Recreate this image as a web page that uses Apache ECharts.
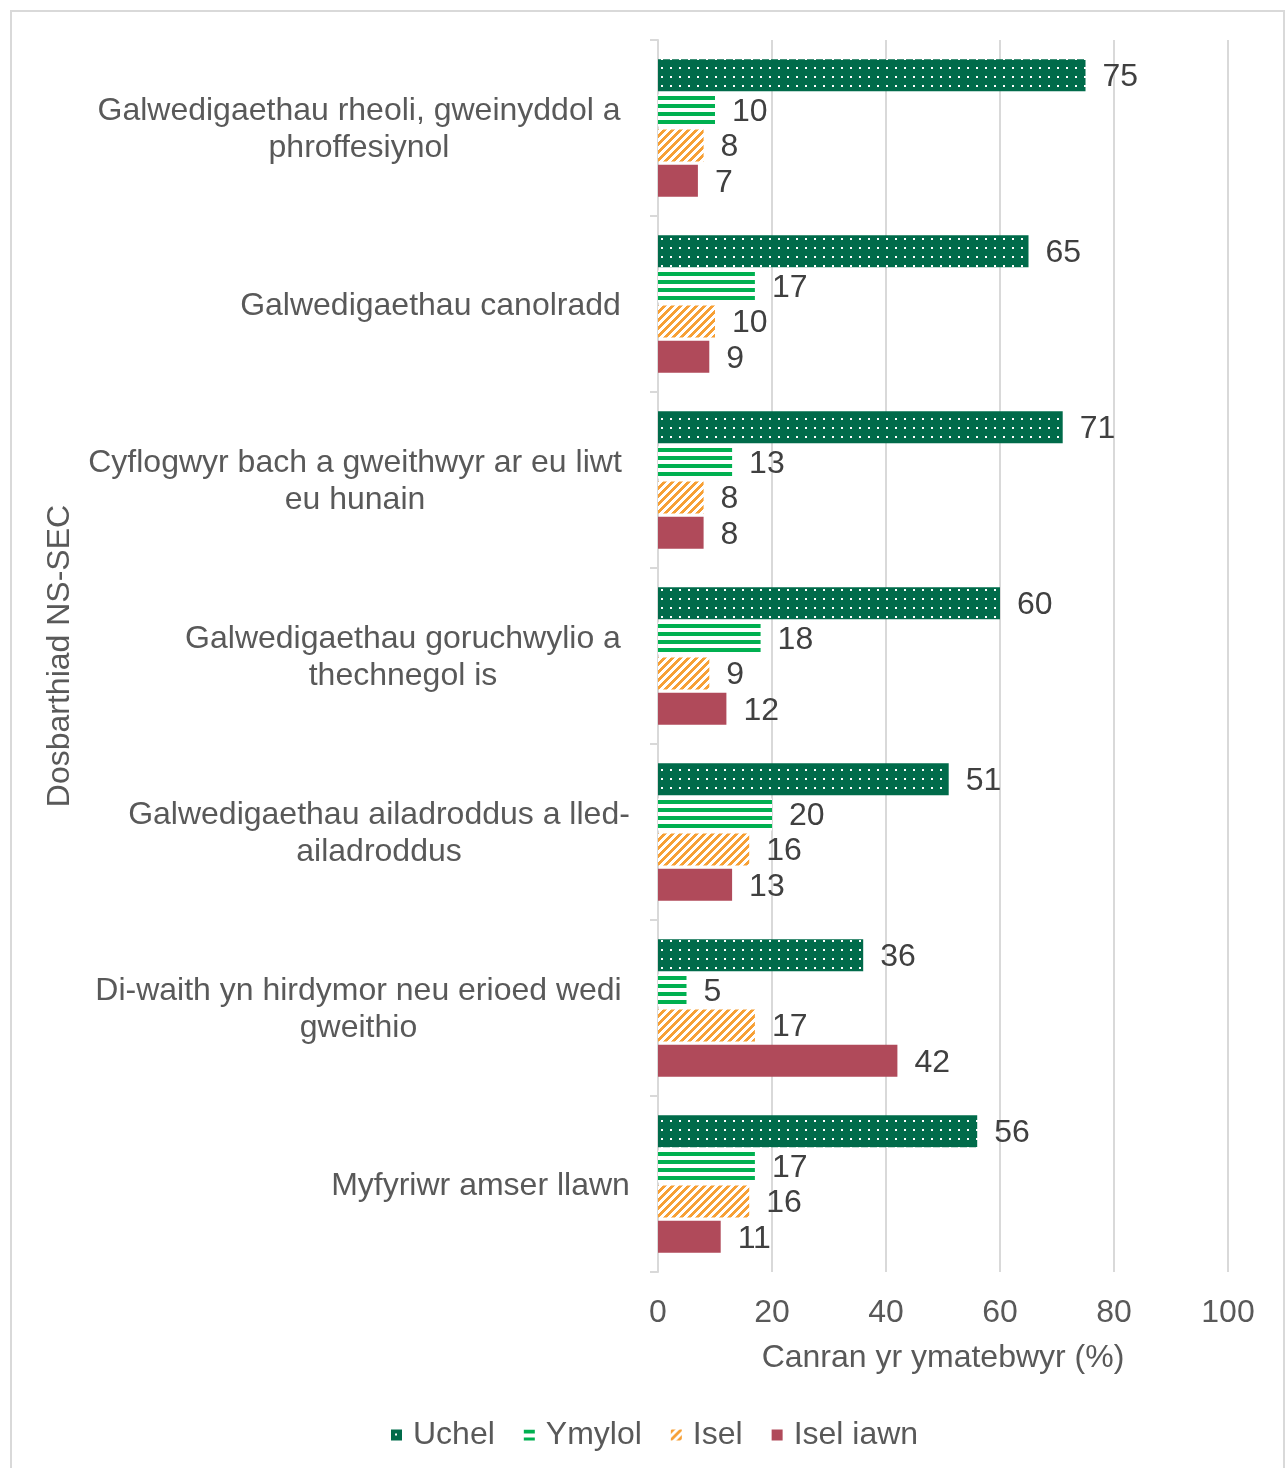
<!DOCTYPE html>
<html>
<head>
<meta charset="utf-8">
<script src="https://cdn.jsdelivr.net/npm/echarts@6/dist/echarts.min.js"></script>
<style>
  html, body { margin: 0; padding: 0; background: #fff; }
  #chart { width: 1288px; height: 1468px; }
</style>
</head>
<body>
<div id="chart"></div>
<script>
// ---- Data ----
const categories = [
  'Galwedigaethau rheoli, gweinyddol a\nphroffesiynol',
  'Galwedigaethau canolradd',
  'Cyflogwyr bach a gweithwyr ar eu liwt\neu hunain',
  'Galwedigaethau goruchwylio a\nthechnegol is',
  'Galwedigaethau ailadroddus a lled-\nailadroddus',
  'Di-waith yn hirdymor neu erioed wedi\ngweithio',
  'Myfyriwr amser llawn'
];
const seriesNames = ['Uchel', 'Ymylol', 'Isel', 'Isel iawn'];
const uchel   = [75, 65, 71, 60, 51, 36, 56];
const ymylol  = [10, 17, 13, 18, 20, 5, 17];
const isel    = [8, 10, 8, 9, 16, 17, 16];
const iselIawn = [7, 9, 8, 12, 13, 42, 11];
const xTicks = [0, 20, 40, 60, 80, 100];
const xAxisName = 'Canran yr ymatebwyr (%)';
const yAxisName = 'Dosbarthiad NS-SEC';

// ---- Patterns ----
function makeTile(w, h, draw) {
  const c = document.createElement('canvas');
  c.width = w; c.height = h;
  draw(c.getContext('2d'), w, h);
  return c;
}
const dotTile = makeTile(9, 9, (g, w, h) => {
  g.fillStyle = '#006b4a'; g.fillRect(0, 0, w, h);
  g.fillStyle = '#ffffff'; g.fillRect(4, 4, 2, 2);
});
const lineTile = makeTile(8, 8, (g, w, h) => {
  g.fillStyle = '#ffffff'; g.fillRect(0, 0, w, h);
  g.fillStyle = '#00b050'; g.fillRect(0, 0, w, 4);
});
const diagTile = makeTile(8, 8, (g, w, h) => {
  g.fillStyle = '#ffffff'; g.fillRect(0, 0, w, h);
  g.fillStyle = '#f7a035';
  for (let x = 0; x < w; x++) for (let y = 0; y < h; y++) {
    if (((x + y) % 8) < 4) g.fillRect(x, y, 1, 1);
  }
});
const fills = [
  { image: dotTile, repeat: 'repeat' },
  { image: lineTile, repeat: 'repeat' },
  { image: diagTile, repeat: 'repeat' },
  '#b04a5a'
];
const dataSets = [uchel, ymylol, isel, iselIawn];

// ---- Category label centering ----
const FONT = '"Liberation Sans", Arial, sans-serif';
const FS = 32;
const meas = document.createElement('canvas').getContext('2d');
meas.font = FS + 'px ' + FONT;
const extraRight = [9, 9, 8, 9, 0, 8, 0];
const rich = {};
categories.forEach((c, i) => {
  const W = Math.max(...c.split('\n').map(l => meas.measureText(l).width));
  rich['c' + i] = {
    width: Math.ceil(W) + 2 * extraRight[i],
    align: 'center',
    fontSize: FS, color: '#595959', fontFamily: FONT, lineHeight: 37
  };
});

const chart = echarts.init(document.getElementById('chart'), null, { renderer: 'canvas' });
const option = {
  backgroundColor: '#ffffff',
  animation: false,
  textStyle: { fontFamily: FONT },
  graphic: [{
    type: 'rect', shape: { x: 11, y: 11, width: 1273, height: 1470 },
    style: { fill: 'none', stroke: '#d9d9d9', lineWidth: 2 }, silent: true
  }],
  grid: { left: 658, right: 60, top: 40, bottom: 196, containLabel: false },
  legend: {
    data: seriesNames,
    bottom: 12, left: 386,
    itemWidth: 11, itemHeight: 11, itemGap: 29,
    icon: 'rect',
    textStyle: { fontSize: FS, color: '#595959', fontFamily: FONT, padding: [0, 0, 0, 6] }
  },
  xAxis: {
    type: 'value', min: 0, max: 100, interval: 20,
    name: xAxisName, nameLocation: 'middle', nameGap: 70,
    nameTextStyle: { fontSize: FS, color: '#595959', fontFamily: FONT },
    axisLine: { show: false }, axisTick: { show: false },
    axisLabel: { fontSize: FS, color: '#595959', margin: 25, fontFamily: FONT,
      formatter: v => xTicks.includes(v) ? String(v) : '' },
    splitLine: { show: true, lineStyle: { color: '#d9d9d9', width: 2 } }
  },
  yAxis: {
    type: 'category', data: categories, inverse: true,
    name: yAxisName, nameLocation: 'middle', nameGap: 580, nameRotate: 90,
    nameTextStyle: { fontSize: FS, color: '#595959', fontFamily: FONT },
    axisLine: { show: true, lineStyle: { color: '#d9d9d9', width: 2 } },
    axisTick: { show: true, length: 8, lineStyle: { color: '#d9d9d9', width: 2 } },
    axisLabel: {
      margin: 28,
      padding: [4, 0, 0, 0],
      formatter: (v, i) => v.split('\n').map(l => '{c' + i + '|' + l + '}').join('\n'),
      rich: rich
    }
  },
  series: seriesNames.map((n, k) => ({
    name: n, type: 'bar', data: dataSets[k],
    barCategoryGap: '22%', barGap: '10%',
    itemStyle: { color: fills[k] },
    label: { show: true, position: 'right', distance: 17, offset: [0, 2], fontSize: FS, color: '#404040', fontFamily: FONT }
  }))
};
chart.setOption(option);
</script>
</body>
</html>
